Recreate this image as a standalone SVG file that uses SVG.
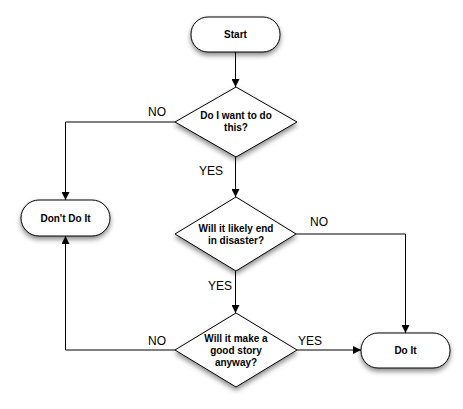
<svg xmlns="http://www.w3.org/2000/svg" width="463" height="409" viewBox="0 0 463 409">
<defs>
<filter id="sh" x="-30%" y="-30%" width="160%" height="180%">
<feDropShadow dx="0" dy="3" stdDeviation="2.5" flood-color="#000" flood-opacity="0.45"/>
</filter>
<marker id="ar" viewBox="0 0 10 10" refX="10" refY="5" markerWidth="8" markerHeight="8" markerUnits="userSpaceOnUse" orient="auto">
<path d="M0,0 L10,5 L0,10 z" fill="#000"/>
</marker>
</defs>
<style>
.n{fill:#fff;stroke:#000;stroke-width:1;filter:url(#sh)}
.t{font-family:"Liberation Sans",Arial,sans-serif;font-size:10px;font-weight:bold;text-anchor:middle;fill:#000}
.l{font-family:"Liberation Sans",Arial,sans-serif;font-size:12px;fill:#000}
.c{fill:none;stroke:#000;stroke-width:1}
</style>
<rect width="463" height="409" fill="#fff"/>
<g id="connectors">
<path class="c" d="M235.5,52 V87" marker-end="url(#ar)"/>
<path class="c" d="M175,122 H65.5 V200" marker-end="url(#ar)"/>
<path class="c" d="M235.5,157 V197" marker-end="url(#ar)"/>
<path class="c" d="M296,234 H405.5 V333" marker-end="url(#ar)"/>
<path class="c" d="M235.5,271 V313" marker-end="url(#ar)"/>
<path class="c" d="M175,350 H65.5 V236" marker-end="url(#ar)"/>
<path class="c" d="M297,350 H361" marker-end="url(#ar)"/>
<text class="l" x="148" y="116">NO</text>
<text class="l" x="199" y="175">YES</text>
<text class="l" x="310" y="226">NO</text>
<text class="l" x="208" y="290">YES</text>
<text class="l" x="148" y="345">NO</text>
<text class="l" x="298" y="345">YES</text>
</g>
<g id="start">
<rect class="n" x="191" y="17" width="89" height="35" rx="17" ry="17"/>
<text class="t" x="235.5" y="38">Start</text>
</g>
<g id="q1">
<path class="n" d="M236,87 L297,122 L236,157 L175,122 Z"/>
<text class="t" x="236" y="119">Do I want to do</text>
<text class="t" x="236" y="131">this?</text>
</g>
<g id="dont">
<rect class="n" x="21" y="200" width="89" height="36" rx="18" ry="18"/>
<text class="t" x="65.5" y="222">Don't Do It</text>
</g>
<g id="q2">
<path class="n" d="M236,197 L296,234 L236,271 L175,234 Z"/>
<text class="t" x="236" y="232">Will it likely end</text>
<text class="t" x="236" y="244">in disaster?</text>
</g>
<g id="q3">
<path class="n" d="M236,313 L297,350 L236,387 L175,350 Z"/>
<text class="t" x="236" y="342">Will it make a</text>
<text class="t" x="236" y="354">good story</text>
<text class="t" x="236" y="366">anyway?</text>
</g>
<g id="doit">
<rect class="n" x="361" y="333" width="89" height="35" rx="17" ry="17"/>
<text class="t" x="405.5" y="354">Do It</text>
</g>
</svg>
